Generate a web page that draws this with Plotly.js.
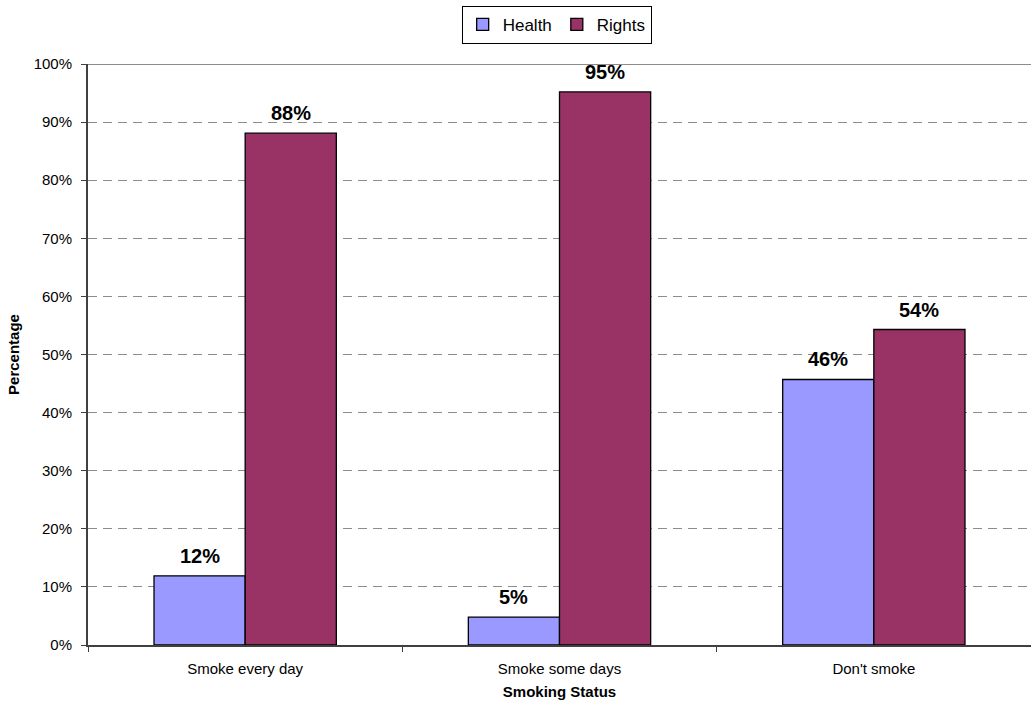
<!DOCTYPE html>
<html>
<head>
<meta charset="utf-8">
<script src="https://cdn.plot.ly/plotly-3.0.1.min.js"></script>
<style>html,body{margin:0;padding:0;background:#fff;}#chart{width:1031px;height:704px;}</style>
</head>
<body>
<div id="chart"></div>
<script>
const categories = ["Smoke every day", "Smoke some days", "Don't smoke"];
const healthValues = [11.9, 4.8, 45.7];
const rightsValues = [88.1, 95.2, 54.3];
const yTickVals = [0,10,20,30,40,50,60,70,80,90,100];
const yTickText = ["0%","10%","20%","30%","40%","50%","60%","70%","80%","90%","100%"];

const FONT = "Liberation Sans, Arial, sans-serif";
const LABEL_FONT = {family: FONT, size: 20, color: '#000', weight: 'bold'};

const traces = [
  {
    type: 'bar', name: 'Health', x: categories, y: healthValues,
    marker: {color: '#9999FF', line: {color: '#000', width: 1.3}},
    hoverinfo: 'skip'
  },
  {
    type: 'bar', name: 'Rights', x: categories, y: rightsValues,
    marker: {color: '#993366', line: {color: '#000', width: 1.3}},
    hoverinfo: 'skip'
  }
];

// Data labels, positioned from the data arrays
const annotations = [];
const barHalf = 45.6;
categories.forEach((c, i) => {
  annotations.push({x: c, y: healthValues[i], xref: 'x', yref: 'y', text: Math.round(healthValues[i]) + '%',
    showarrow: false, xshift: -barHalf, yanchor: 'bottom', yshift: 7, font: LABEL_FONT});
  annotations.push({x: c, y: rightsValues[i], xref: 'x', yref: 'y', text: Math.round(rightsValues[i]) + '%',
    showarrow: false, xshift: barHalf, yanchor: 'bottom', yshift: 7, font: LABEL_FONT});
});

const layout = {
  width: 1031, height: 704,
  margin: {l: 88, r: 0, t: 64, b: 59},
  paper_bgcolor: '#fff', plot_bgcolor: '#fff',
  font: {family: FONT, size: 15, color: '#000'},
  barmode: 'group', bargap: 0.42, bargroupgap: 0,
  showlegend: true,
  legend: {
    orientation: 'h', x: 0.497, xanchor: 'center', y: 1.1, yanchor: 'top',
    bordercolor: '#000', borderwidth: 1, bgcolor: '#fff',
    font: {family: FONT, size: 17, color: '#000'},
    itemwidth: 30, tracegroupgap: 0
  },
  xaxis: {
    type: 'category',
    showline: true, linecolor: '#404040', linewidth: 2,
    ticks: 'outside', tickson: 'boundaries', ticklen: 5, tickcolor: '#404040', tickwidth: 1,
    ticklabelstandoff: 9,
    showgrid: false, zeroline: false,
    tickfont: {family: FONT, size: 15, color: '#000'},
    title: {text: 'Smoking Status', font: {family: FONT, size: 15, color: '#000', weight: 'bold'}, standoff: 10},
    fixedrange: true
  },
  yaxis: {
    range: [0, 100],
    tickvals: yTickVals, ticktext: yTickText,
    showline: true, linecolor: '#404040', linewidth: 2,
    ticks: 'outside', ticklen: 5, tickcolor: '#404040',
    ticklabelstandoff: 6,
    showgrid: true, gridcolor: '#8c8c8c', griddash: '9px,6px', gridwidth: 1,
    zeroline: false,
    tickfont: {family: FONT, size: 15, color: '#000'},
    title: {text: 'Percentage', font: {family: FONT, size: 15, color: '#000', weight: 'bold'}, standoff: 10},
    fixedrange: true
  },
  annotations: annotations,
  shapes: [
    {type: 'line', xref: 'paper', yref: 'y', x0: 0, x1: 1, y0: 100, y1: 100,
     line: {color: '#8c8c8c', width: 2}}
  ]
};

Plotly.newPlot('chart', traces, layout, {displayModeBar: false, staticPlot: true});
</script>
</body>
</html>
